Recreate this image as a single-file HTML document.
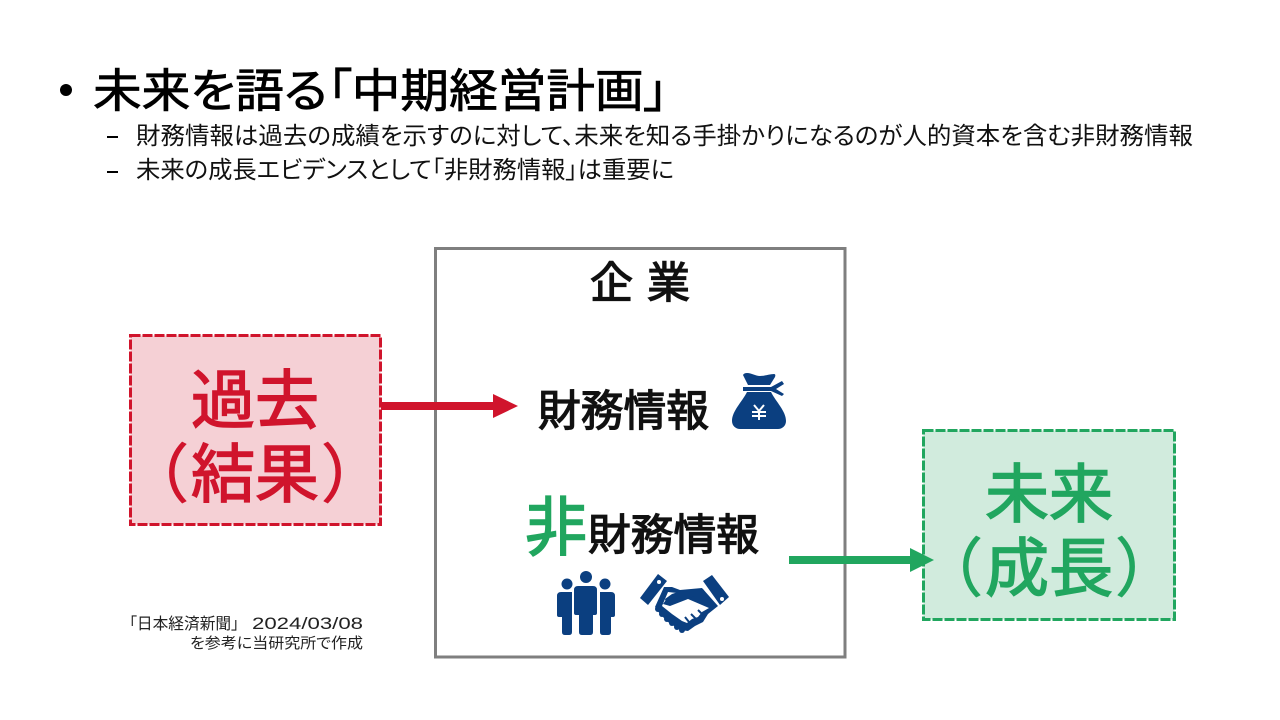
<!DOCTYPE html>
<html lang="ja">
<head>
<meta charset="utf-8">
<style>
html,body{margin:0;padding:0;background:#fff}
svg{display:block}
text{font-family:"Liberation Sans","Noto Sans CJK JP",sans-serif;font-feature-settings:"palt"}
.full{font-feature-settings:normal}
</style>
</head>
<body>
<svg width="1280" height="720" viewBox="0 0 1280 720" xmlns="http://www.w3.org/2000/svg">
<rect width="1280" height="720" fill="#fff"/>
<!-- Title -->
<circle cx="66" cy="90" r="6" fill="#000"/>
<text x="93" y="107" font-size="46" fill="#000" stroke="#000" stroke-width="0.8" textLength="575" lengthAdjust="spacingAndGlyphs">未来を語る「中期経営計画」</text>
<rect x="107" y="136" width="11" height="2" fill="#000"/>
<text x="136" y="144" font-size="24" fill="#111" textLength="1057" lengthAdjust="spacingAndGlyphs">財務情報は過去の成績を示すのに対して、未来を知る手掛かりになるのが人的資本を含む非財務情報</text>
<rect x="107" y="171" width="11" height="2" fill="#000"/>
<text x="136" y="178" font-size="24" fill="#111" textLength="538" lengthAdjust="spacingAndGlyphs">未来の成長エビデンスとして「非財務情報」は重要に</text>

<!-- Company box -->
<rect x="435.500" y="248.500" width="409.500" height="408.500" fill="#fff" stroke="#7f7f7f" stroke-width="3"/>
<text x="590" y="298" font-size="43" fill="#111" stroke="#111" stroke-width="1.300" textLength="100">企 業</text>
<text x="538" y="426" font-size="43" fill="#111" stroke="#111" stroke-width="1.300" textLength="171" lengthAdjust="spacingAndGlyphs">財務情報</text>
<text x="525" y="550" font-size="64" fill="#21a65f" stroke="#21a65f" stroke-width="1.600" textLength="62" lengthAdjust="spacingAndGlyphs">非</text>
<text x="588" y="550" font-size="43" fill="#111" stroke="#111" stroke-width="1.300" textLength="171" lengthAdjust="spacingAndGlyphs">財務情報</text>

<!-- Past box -->
<rect x="130.500" y="335.500" width="250" height="189" fill="#f5d0d5" stroke="#d0142c" stroke-width="3" stroke-dasharray="10 2"/>
<text x="255" y="423" font-size="64" fill="#d0142c" stroke="#d0142c" stroke-width="1.500" text-anchor="middle">過去</text>
<text x="255" y="497" font-size="64" fill="#d0142c" stroke="#d0142c" stroke-width="1.500" text-anchor="middle">結果</text>
<text class="full" x="125" y="497" font-size="64" fill="#d0142c" stroke="#d0142c" stroke-width="0.800">（</text>
<text class="full" x="321" y="497" font-size="64" fill="#d0142c" stroke="#d0142c" stroke-width="0.800">）</text>

<!-- Future box -->
<rect x="923.500" y="430.500" width="251" height="189" fill="#d1ebdd" stroke="#21a65f" stroke-width="3" stroke-dasharray="10 2"/>
<text x="1049" y="517" font-size="64" fill="#21a65f" stroke="#21a65f" stroke-width="1.500" text-anchor="middle">未来</text>
<text x="1049" y="591" font-size="64" fill="#21a65f" stroke="#21a65f" stroke-width="1.500" text-anchor="middle">成長</text>
<text class="full" x="919" y="591" font-size="64" fill="#21a65f" stroke="#21a65f" stroke-width="0.800">（</text>
<text class="full" x="1115" y="591" font-size="64" fill="#21a65f" stroke="#21a65f" stroke-width="0.800">）</text>

<!-- Arrows -->
<rect x="381" y="402" width="114" height="8" fill="#d0142c"/>
<polygon points="493,394 518,406 493,418" fill="#d0142c"/>
<rect x="789" y="556" width="123" height="8" fill="#21a65f"/>
<polygon points="910,548 934,560 910,572" fill="#21a65f"/>

<!-- Money bag -->
<g fill="#0b3f80">
<path d="M743,375 Q744,373 747,373 C752,373 755,376 760,376 C765,376 770,374 774,374 Q776,374 775,377 L770,385 L748,385 Z"/>
<path d="M743,387 L771,387 L782,381 L784,384 L776,389 L784,394 L782,396 L771,391 L743,391 Z"/>
<path d="M747,392 L771,392 C776,402 786,411 786,421 C786,426 782,429 778,429 L740,429 C736,429 732,426 732,421 C732,411 742,402 747,392 Z"/>
</g>
<g stroke="#fff" stroke-width="2" fill="none">
<path d="M754,405 L759,411 L764,405 M759,411 L759,420 M752,412 L766,412 M752,416 L766,416"/>
</g>

<!-- People -->
<g fill="#0b3f80">
<circle cx="586" cy="577" r="6"/>
<circle cx="567" cy="584" r="5.500"/>
<circle cx="605" cy="584" r="5.500"/>
<path d="M578,586 L593,586 Q597,586 597,590 L597,613 Q597,615 595,615 L593,615 L593,632 Q593,635 590,635 L582,635 Q579,635 579,632 L579,615 L576,615 Q574,615 574,613 L574,590 Q574,586 578,586 Z"/>
<path d="M561,592 L572,592 L572,632 Q572,635 569,635 L565,635 Q562,635 562,632 L562,617 L559,617 Q557,617 557,615 L557,596 Q557,592 561,592 Z"/>
<path d="M600,592 L611,592 Q615,592 615,596 L615,615 Q615,617 613,617 L611,617 L611,632 Q611,635 608,635 L603,635 Q600,635 600,632 Z"/>
</g>

<!-- Handshake -->
<g fill="#0b3f80">
<polygon points="640,598 658,574 667,581 648,605"/>
<polygon points="703,581 712,575 729,597 720,605"/>
<polygon points="664,587 672,587 680,590 702,588 718,606 708,614 703,622 695,626 688,631 680,630 668,622 660,614 655,607"/>
<circle cx="658" cy="609" r="3"/><circle cx="662" cy="614" r="3"/><circle cx="667" cy="619" r="3"/><circle cx="672" cy="623" r="3"/><circle cx="677" cy="627" r="3"/><circle cx="682" cy="630" r="3"/>
</g>
<g fill="#fff">
<circle cx="659" cy="582" r="2"/>
<circle cx="722" cy="599" r="2"/>
<polygon points="668,592 677,593 668,597 663,604 670,606 688,599 709,608 702,612 698,617 692,619 687,623 682,621 672,614 662,606"/>
</g>
<polygon points="665,599 672,594 684,590 703,589 708,596 695,596 686,599 672,603 666,603" fill="#0b3f80"/>
<path d="M698,610 L703,615 M691,614 L696,619 M685,617 L689,622" stroke="#0b3f80" stroke-width="2" fill="none"/>

<!-- Source -->
<text x="129" y="629" font-size="16" fill="#222" textLength="110" lengthAdjust="spacingAndGlyphs">「日本経済新聞」</text>
<text x="252" y="629" font-size="17" fill="#222" textLength="111" lengthAdjust="spacingAndGlyphs">2024/03/08</text>
<text x="190" y="648" font-size="15" fill="#222" textLength="173" lengthAdjust="spacingAndGlyphs">を参考に当研究所で作成</text>
</svg>
</body>
</html>
